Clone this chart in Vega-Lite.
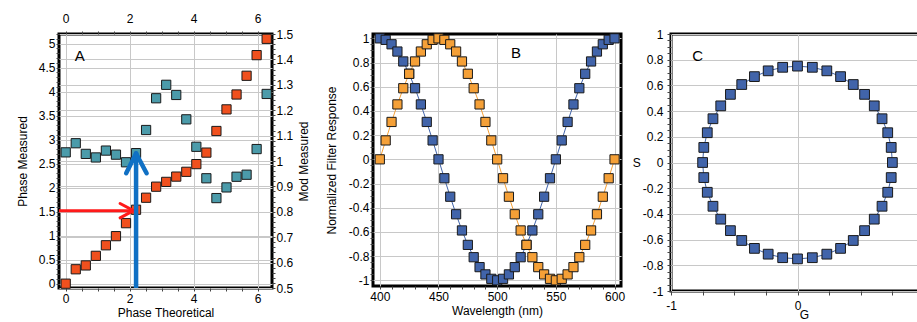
{
 "$schema": "https://vega.github.io/schema/vega-lite/v6.json",
 "padding": {"left": 14, "top": 10, "right": 0, "bottom": 0},
 "background": "white",
 "bounds": "flush",
 "spacing": 50,
 "config": {
  "view": {"stroke": "black", "strokeWidth": 3},
  "axis": {"labelFont": "Liberation Sans", "labelFontSize": 12, "labelColor": "#000", "titleFont": "Liberation Sans", "titleFontSize": 12, "titleFontWeight": "normal", "titleColor": "#000", "domain": false, "tickColor": "#444", "tickSize": 3, "labelPadding": 1, "gridColor": "#c8c8c8", "labelOverlap": false, "labelFlush": false},
  "text": {"font": "Liberation Sans"}
 },
 "datasets": {
  "phase": [
   {"t":0,"m":0,"mod":1.034},{"t":0.314,"m":0.30,"mod":1.07},{"t":0.628,"m":0.38,"mod":1.028},{"t":0.942,"m":0.58,"mod":1.014},
   {"t":1.257,"m":0.80,"mod":1.041},{"t":1.571,"m":0.99,"mod":1.025},{"t":1.885,"m":1.26,"mod":0.995},{"t":2.199,"m":1.54,"mod":1.031},
   {"t":2.513,"m":1.79,"mod":1.122},{"t":2.827,"m":2.02,"mod":1.247},{"t":3.142,"m":2.12,"mod":1.30},{"t":3.456,"m":2.23,"mod":1.26},
   {"t":3.770,"m":2.33,"mod":1.164},{"t":4.084,"m":2.49,"mod":1.056},{"t":4.398,"m":2.73,"mod":0.932},{"t":4.712,"m":3.18,"mod":0.854},
   {"t":5.027,"m":3.63,"mod":0.896},{"t":5.341,"m":3.94,"mod":0.938},{"t":5.655,"m":4.33,"mod":0.946},{"t":5.969,"m":4.76,"mod":1.047},
   {"t":6.283,"m":5.10,"mod":1.264}
  ],
  "arrows": [
   {"dir":"h","t":-0.21,"m":1.52,"t2":2.12,"m2":1.52},
   {"dir":"h","t":1.70,"m":1.67,"t2":2.12,"m2":1.52},
   {"dir":"h","t":1.70,"m":1.37,"t2":2.12,"m2":1.52},
   {"dir":"v","t":2.2,"m":-0.09,"t2":2.2,"m2":2.71},
   {"dir":"v","t":1.89,"m":2.30,"t2":2.2,"m2":2.71},
   {"dir":"v","t":2.53,"m":2.30,"t2":2.2,"m2":2.71}
  ],
  "filt": [
   {"wl":400,"s":"cos","r":1},{"wl":405,"s":"cos","r":0.9877},{"wl":410,"s":"cos","r":0.9511},{"wl":415,"s":"cos","r":0.891},{"wl":420,"s":"cos","r":0.809},
   {"wl":425,"s":"cos","r":0.7071},{"wl":430,"s":"cos","r":0.5878},{"wl":435,"s":"cos","r":0.454},{"wl":440,"s":"cos","r":0.309},{"wl":445,"s":"cos","r":0.1564},
   {"wl":450,"s":"cos","r":0},{"wl":455,"s":"cos","r":-0.1564},{"wl":460,"s":"cos","r":-0.309},{"wl":465,"s":"cos","r":-0.454},{"wl":470,"s":"cos","r":-0.5878},
   {"wl":475,"s":"cos","r":-0.7071},{"wl":480,"s":"cos","r":-0.809},{"wl":485,"s":"cos","r":-0.891},{"wl":490,"s":"cos","r":-0.9511},{"wl":495,"s":"cos","r":-0.9877},
   {"wl":500,"s":"cos","r":-1},{"wl":505,"s":"cos","r":-0.9877},{"wl":510,"s":"cos","r":-0.9511},{"wl":515,"s":"cos","r":-0.891},{"wl":520,"s":"cos","r":-0.809},
   {"wl":525,"s":"cos","r":-0.7071},{"wl":530,"s":"cos","r":-0.5878},{"wl":535,"s":"cos","r":-0.454},{"wl":540,"s":"cos","r":-0.309},{"wl":545,"s":"cos","r":-0.1564},
   {"wl":550,"s":"cos","r":0},{"wl":555,"s":"cos","r":0.1564},{"wl":560,"s":"cos","r":0.309},{"wl":565,"s":"cos","r":0.454},{"wl":570,"s":"cos","r":0.5878},
   {"wl":575,"s":"cos","r":0.7071},{"wl":580,"s":"cos","r":0.809},{"wl":585,"s":"cos","r":0.891},{"wl":590,"s":"cos","r":0.9511},{"wl":595,"s":"cos","r":0.9877},
   {"wl":600,"s":"cos","r":1},
   {"wl":400,"s":"sin","r":0},{"wl":405,"s":"sin","r":0.1564},{"wl":410,"s":"sin","r":0.309},{"wl":415,"s":"sin","r":0.454},{"wl":420,"s":"sin","r":0.5878},
   {"wl":425,"s":"sin","r":0.7071},{"wl":430,"s":"sin","r":0.809},{"wl":435,"s":"sin","r":0.891},{"wl":440,"s":"sin","r":0.9511},{"wl":445,"s":"sin","r":0.9877},
   {"wl":450,"s":"sin","r":1},{"wl":455,"s":"sin","r":0.9877},{"wl":460,"s":"sin","r":0.9511},{"wl":465,"s":"sin","r":0.891},{"wl":470,"s":"sin","r":0.809},
   {"wl":475,"s":"sin","r":0.7071},{"wl":480,"s":"sin","r":0.5878},{"wl":485,"s":"sin","r":0.454},{"wl":490,"s":"sin","r":0.309},{"wl":495,"s":"sin","r":0.1564},
   {"wl":500,"s":"sin","r":0},{"wl":505,"s":"sin","r":-0.1564},{"wl":510,"s":"sin","r":-0.309},{"wl":515,"s":"sin","r":-0.454},{"wl":520,"s":"sin","r":-0.5878},
   {"wl":525,"s":"sin","r":-0.7071},{"wl":530,"s":"sin","r":-0.809},{"wl":535,"s":"sin","r":-0.891},{"wl":540,"s":"sin","r":-0.9511},{"wl":545,"s":"sin","r":-0.9877},
   {"wl":550,"s":"sin","r":-1},{"wl":555,"s":"sin","r":-0.9877},{"wl":560,"s":"sin","r":-0.9511},{"wl":565,"s":"sin","r":-0.891},{"wl":570,"s":"sin","r":-0.809},
   {"wl":575,"s":"sin","r":-0.7071},{"wl":580,"s":"sin","r":-0.5878},{"wl":585,"s":"sin","r":-0.454},{"wl":590,"s":"sin","r":-0.309},{"wl":595,"s":"sin","r":-0.1564},
   {"wl":600,"s":"sin","r":0}
  ],
  "circ": [
   {"k":0,"g":0.75,"sv":0},{"k":1,"g":0.7408,"sv":0.1173},{"k":2,"g":0.7133,"sv":0.2318},{"k":3,"g":0.6683,"sv":0.3405},{"k":4,"g":0.6068,"sv":0.4408},
   {"k":5,"g":0.5303,"sv":0.5303},{"k":6,"g":0.4408,"sv":0.6068},{"k":7,"g":0.3405,"sv":0.6683},{"k":8,"g":0.2318,"sv":0.7133},{"k":9,"g":0.1173,"sv":0.7408},
   {"k":10,"g":0,"sv":0.75},{"k":11,"g":-0.1173,"sv":0.7408},{"k":12,"g":-0.2318,"sv":0.7133},{"k":13,"g":-0.3405,"sv":0.6683},{"k":14,"g":-0.4408,"sv":0.6068},
   {"k":15,"g":-0.5303,"sv":0.5303},{"k":16,"g":-0.6068,"sv":0.4408},{"k":17,"g":-0.6683,"sv":0.3405},{"k":18,"g":-0.7133,"sv":0.2318},{"k":19,"g":-0.7408,"sv":0.1173},
   {"k":20,"g":-0.75,"sv":0},{"k":21,"g":-0.7408,"sv":-0.1173},{"k":22,"g":-0.7133,"sv":-0.2318},{"k":23,"g":-0.6683,"sv":-0.3405},{"k":24,"g":-0.6068,"sv":-0.4408},
   {"k":25,"g":-0.5303,"sv":-0.5303},{"k":26,"g":-0.4408,"sv":-0.6068},{"k":27,"g":-0.3405,"sv":-0.6683},{"k":28,"g":-0.2318,"sv":-0.7133},{"k":29,"g":-0.1173,"sv":-0.7408},
   {"k":30,"g":0,"sv":-0.75},{"k":31,"g":0.1173,"sv":-0.7408},{"k":32,"g":0.2318,"sv":-0.7133},{"k":33,"g":0.3405,"sv":-0.6683},{"k":34,"g":0.4408,"sv":-0.6068},
   {"k":35,"g":0.5303,"sv":-0.5303},{"k":36,"g":0.6068,"sv":-0.4408},{"k":37,"g":0.6683,"sv":-0.3405},{"k":38,"g":0.7133,"sv":-0.2318},{"k":39,"g":0.7408,"sv":-0.1173}
  ]
 },
 "hconcat": [
  {
   "width": 213, "height": 254,
   "resolve": {"scale": {"x": "independent", "y": "independent"}, "axis": {"x": "independent", "y": "independent"}},
   "layer": [
    {
     "data": {"name": "phase"},
     "mark": {"type": "square", "size": 85, "filled": true, "color": "#4b9baa", "stroke": "#1a1a1a", "strokeWidth": 1, "opacity": 1},
     "encoding": {
      "x": {"field": "t", "type": "quantitative", "scale": {"domain": [-0.21, 6.45], "nice": false, "zero": false},
       "axis": {"orient": "top", "title": null, "values": [0,0.5,1,1.5,2,2.5,3,3.5,4,4.5,5,5.5,6], "labelExpr": "datum.value % 2 == 0 ? '' + datum.value : ''", "labelOverlap": false, "grid": false, "labelPadding": 6}},
      "y": {"field": "mod", "type": "quantitative", "scale": {"domain": [0.5, 1.5], "nice": false, "zero": false},
       "axis": {"orient": "right", "title": "Mod Measured", "titleAngle": 270, "titleBaseline": "top", "titlePadding": 6, "labelOverlap": false,
        "values": [0.5,0.52,0.54,0.56,0.58,0.6,0.62,0.64,0.66,0.68,0.7,0.72,0.74,0.76,0.78,0.8,0.82,0.84,0.86,0.88,0.9,0.92,0.94,0.96,0.98,1,1.02,1.04,1.06,1.08,1.1,1.12,1.14,1.16,1.18,1.2,1.22,1.24,1.26,1.28,1.3,1.32,1.34,1.36,1.38,1.4,1.42,1.44,1.46,1.48,1.5],
        "labelExpr": "abs(datum.value*10 - round(datum.value*10)) < 0.001 ? '' + datum.value : ''",
        "grid": true, "gridOpacity": {"condition": {"test": "abs(datum.value*10 - round(datum.value*10)) < 0.001", "value": 1}, "value": 0}}}
     }
    },
    {
     "data": {"name": "phase"},
     "mark": {"type": "square", "size": 85, "filled": true, "color": "#f0501e", "stroke": "#1a1a1a", "strokeWidth": 1, "opacity": 1},
     "encoding": {
      "x": {"field": "t", "type": "quantitative", "scale": {"domain": [-0.21, 6.45], "nice": false, "zero": false},
       "axis": {"orient": "bottom", "title": "Phase Theoretical", "values": [0,0.5,1,1.5,2,2.5,3,3.5,4,4.5,5,5.5,6], "labelExpr": "datum.value % 2 == 0 ? '' + datum.value : ''", "labelOverlap": false, "grid": true, "gridOpacity": {"condition": {"test": "datum.value % 2 == 0", "value": 1}, "value": 0}, "labelPadding": 2, "titlePadding": 3}},
      "y": {"field": "m", "type": "quantitative", "scale": {"domain": [-0.09, 5.2], "nice": false, "zero": false},
       "axis": {"orient": "left", "title": "Phase Measured", "titlePadding": 9, "labelOverlap": false,
        "values": [0,0.1,0.2,0.3,0.4,0.5,0.6,0.7,0.8,0.9,1,1.1,1.2,1.3,1.4,1.5,1.6,1.7,1.8,1.9,2,2.1,2.2,2.3,2.4,2.5,2.6,2.7,2.8,2.9,3,3.1,3.2,3.3,3.4,3.5,3.6,3.7,3.8,3.9,4,4.1,4.2,4.3,4.4,4.5,4.6,4.7,4.8,4.9,5,5.1,5.2],
        "labelExpr": "abs(datum.value*2 - round(datum.value*2)) < 0.001 ? '' + datum.value : ''",
        "grid": true, "gridOpacity": {"condition": {"test": "abs(datum.value*2 - round(datum.value*2)) < 0.001", "value": 1}, "value": 0}}}
     }
    },
    {
     "data": {"name": "arrows"},
     "transform": [{"filter": "datum.dir == 'h'"}],
     "mark": {"type": "rule", "color": "#ff1a1a", "strokeWidth": 3, "strokeCap": "round", "clip": true},
     "encoding": {
      "x": {"field": "t", "type": "quantitative", "scale": {"domain": [-0.21, 6.45], "nice": false, "zero": false}, "axis": null},
      "y": {"field": "m", "type": "quantitative", "scale": {"domain": [-0.09, 5.2], "nice": false, "zero": false}, "axis": null},
      "x2": {"field": "t2"}, "y2": {"field": "m2"}
     }
    },
    {
     "data": {"name": "arrows"},
     "transform": [{"filter": "datum.dir == 'v'"}],
     "mark": {"type": "rule", "color": "#1070c4", "strokeWidth": 4.5, "strokeCap": "round", "clip": true},
     "encoding": {
      "x": {"field": "t", "type": "quantitative", "scale": {"domain": [-0.21, 6.45], "nice": false, "zero": false}, "axis": null},
      "y": {"field": "m", "type": "quantitative", "scale": {"domain": [-0.09, 5.2], "nice": false, "zero": false}, "axis": null},
      "x2": {"field": "t2"}, "y2": {"field": "m2"}
     }
    },
    {
     "data": {"values": [{"t": 0.44, "m": 4.74, "lab": "A"}]},
     "mark": {"type": "text", "fontSize": 15, "color": "#000"},
     "encoding": {
      "x": {"field": "t", "type": "quantitative", "scale": {"domain": [-0.21, 6.45], "nice": false, "zero": false}, "axis": null},
      "y": {"field": "m", "type": "quantitative", "scale": {"domain": [-0.09, 5.2], "nice": false, "zero": false}, "axis": null},
      "text": {"field": "lab"}
     }
    }
   ]
  },
  {
   "width": 0.01, "height": 254,
   "view": {"stroke": null},
   "data": {"values": [{"z": 0}]},
   "mark": {"type": "point", "opacity": 0}
  },
  {
   "width": 248, "height": 252,
   "resolve": {"axis": {"x": "independent", "y": "independent"}},
   "layer": [
    {
     "data": {"name": "filt"},
     "mark": {"type": "line", "strokeWidth": 1},
     "encoding": {
      "x": {"field": "wl", "type": "quantitative", "scale": {"domain": [394.2, 605.5], "nice": false, "zero": false},
       "axis": {"orient": "bottom", "title": "Wavelength (nm)", "values": [400,410,420,430,440,450,460,470,480,490,500,510,520,530,540,550,560,570,580,590,600], "labelExpr": "datum.value % 50 == 0 ? '' + datum.value : ''", "labelOverlap": false, "grid": true, "gridOpacity": {"condition": {"test": "datum.value % 50 == 0", "value": 1}, "value": 0}, "labelPadding": 2, "titlePadding": 3}},
      "y": {"field": "r", "type": "quantitative", "scale": {"domain": [-1.047, 1.036], "nice": false, "zero": false},
       "axis": {"orient": "left", "title": "Normalized Filter Response", "titlePadding": 10, "labelOverlap": false,
        "values": [-1,-0.95,-0.9,-0.85,-0.8,-0.75,-0.7,-0.65,-0.6,-0.55,-0.5,-0.45,-0.4,-0.35,-0.3,-0.25,-0.2,-0.15,-0.1,-0.05,0,0.05,0.1,0.15,0.2,0.25,0.3,0.35,0.4,0.45,0.5,0.55,0.6,0.65,0.7,0.75,0.8,0.85,0.9,0.95,1],
        "labelExpr": "abs(datum.value*5 - round(datum.value*5)) < 0.001 ? '' + datum.value : ''",
        "grid": true, "gridOpacity": {"condition": {"test": "abs(datum.value*5 - round(datum.value*5)) < 0.001", "value": 1}, "value": 0}}},
      "color": {"field": "s", "type": "nominal", "scale": {"domain": ["cos", "sin"], "range": ["#4164aa", "#f5a037"]}, "legend": null}
     }
    },
    {
     "data": {"name": "filt"},
     "mark": {"type": "square", "size": 85, "filled": true, "stroke": "#1a1a1a", "strokeWidth": 1, "opacity": 1},
     "encoding": {
      "x": {"field": "wl", "type": "quantitative", "scale": {"domain": [394.2, 605.5], "nice": false, "zero": false}, "axis": null},
      "y": {"field": "r", "type": "quantitative", "scale": {"domain": [-1.047, 1.036], "nice": false, "zero": false}, "axis": null},
      "fill": {"field": "s", "type": "nominal", "scale": {"domain": ["cos", "sin"], "range": ["#4164aa", "#f5a037"]}, "legend": null}
     }
    },
    {
     "data": {"values": [{"wl": 516, "r": 0.88, "lab": "B"}]},
     "mark": {"type": "text", "fontSize": 15, "color": "#000"},
     "encoding": {
      "x": {"field": "wl", "type": "quantitative", "scale": {"domain": [394.2, 605.5], "nice": false, "zero": false}, "axis": null},
      "y": {"field": "r", "type": "quantitative", "scale": {"domain": [-1.047, 1.036], "nice": false, "zero": false}, "axis": null},
      "text": {"field": "lab"}
     }
    }
   ]
  },
  {
   "width": 253, "height": 257,
   "resolve": {"axis": {"x": "independent", "y": "independent"}},
   "layer": [
    {
     "data": {"name": "circ"},
     "mark": {"type": "line", "strokeWidth": 1, "color": "#4164aa"},
     "encoding": {
      "x": {"field": "g", "type": "quantitative", "scale": {"domain": [-1, 1], "nice": false, "zero": false},
       "axis": {"orient": "bottom", "title": "G", "titleX": 133, "values": [-1,-0.75,-0.5,-0.25,0,0.25,0.5,0.75], "labelExpr": "datum.value == round(datum.value) ? '' + datum.value : ''", "labelOverlap": false, "grid": true, "gridOpacity": {"condition": {"test": "datum.value == round(datum.value)", "value": 1}, "value": 0}, "tickSize": 4, "labelPadding": 5, "titlePadding": -2}},
      "y": {"field": "sv", "type": "quantitative", "scale": {"domain": [-1, 1], "nice": false, "zero": false},
       "axis": {"orient": "left", "title": "S", "titleAngle": 0, "titleAlign": "right", "titleBaseline": "middle", "titlePadding": 2, "tickSize": 4, "labelPadding": 4, "labelOverlap": false,
        "values": [-1,-0.95,-0.9,-0.85,-0.8,-0.75,-0.7,-0.65,-0.6,-0.55,-0.5,-0.45,-0.4,-0.35,-0.3,-0.25,-0.2,-0.15,-0.1,-0.05,0,0.05,0.1,0.15,0.2,0.25,0.3,0.35,0.4,0.45,0.5,0.55,0.6,0.65,0.7,0.75,0.8,0.85,0.9,0.95,1],
        "labelExpr": "abs(datum.value*5 - round(datum.value*5)) < 0.001 ? '' + datum.value : ''",
        "grid": true, "gridOpacity": {"condition": {"test": "abs(datum.value*5 - round(datum.value*5)) < 0.001", "value": 1}, "value": 0}}},
      "order": {"field": "k", "type": "quantitative"}
     }
    },
    {
     "data": {"name": "circ"},
     "mark": {"type": "square", "size": 95, "filled": true, "color": "#4164aa", "stroke": "#1a1a1a", "strokeWidth": 1, "opacity": 1},
     "encoding": {
      "x": {"field": "g", "type": "quantitative", "scale": {"domain": [-1, 1], "nice": false, "zero": false}, "axis": null},
      "y": {"field": "sv", "type": "quantitative", "scale": {"domain": [-1, 1], "nice": false, "zero": false}, "axis": null}
     }
    },
    {
     "data": {"values": [{"g": -0.79, "sv": 0.83, "lab": "C"}]},
     "mark": {"type": "text", "fontSize": 15, "color": "#000"},
     "encoding": {
      "x": {"field": "g", "type": "quantitative", "scale": {"domain": [-1, 1], "nice": false, "zero": false}, "axis": null},
      "y": {"field": "sv", "type": "quantitative", "scale": {"domain": [-1, 1], "nice": false, "zero": false}, "axis": null},
      "text": {"field": "lab"}
     }
    }
   ]
  }
 ]
}
